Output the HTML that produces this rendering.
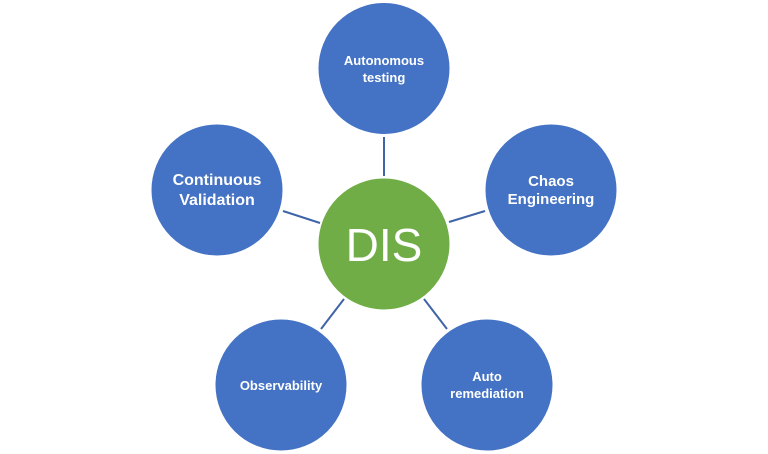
<!DOCTYPE html>
<html><head><style>
html,body{margin:0;padding:0;background:#fff;}
svg{display:block;}
text{font-family:"Liberation Sans",sans-serif;fill:#fff;text-anchor:middle;}
</style></head><body>
<svg width="768" height="454" viewBox="0 0 768 454">
<g stroke="#3f64a8" stroke-width="2">
<line x1="384" y1="137" x2="384" y2="176"/>
<line x1="449" y1="222" x2="485" y2="211"/>
<line x1="283" y1="211" x2="320" y2="223"/>
<line x1="321" y1="329" x2="344" y2="299"/>
<line x1="424" y1="299" x2="447" y2="329"/>
</g>
<g fill="#4472C4" stroke="#fff" stroke-width="1">
<circle cx="384" cy="68.5" r="66"/>
<circle cx="551" cy="190" r="66"/>
<circle cx="217" cy="190" r="66"/>
<circle cx="281" cy="385" r="66"/>
<circle cx="487" cy="385" r="66"/>
</g>
<circle cx="384" cy="244" r="66" fill="#70AD47" stroke="#fff"/>
<text x="384" y="65" font-size="13" font-weight="bold">Autonomous</text>
<text x="384" y="82" font-size="13" font-weight="bold">testing</text>
<text x="551" y="186" font-size="15" font-weight="bold">Chaos</text>
<text x="551" y="204" font-size="15" font-weight="bold">Engineering</text>
<text x="217" y="185" font-size="16" font-weight="bold">Continuous</text>
<text x="217" y="205" font-size="16" font-weight="bold">Validation</text>
<text x="281" y="390" font-size="13" font-weight="bold">Observability</text>
<text x="487" y="381" font-size="13" font-weight="bold">Auto</text>
<text x="487" y="398" font-size="13" font-weight="bold">remediation</text>
<text x="384" y="261" font-size="46">DIS</text>
</svg>
</body></html>
